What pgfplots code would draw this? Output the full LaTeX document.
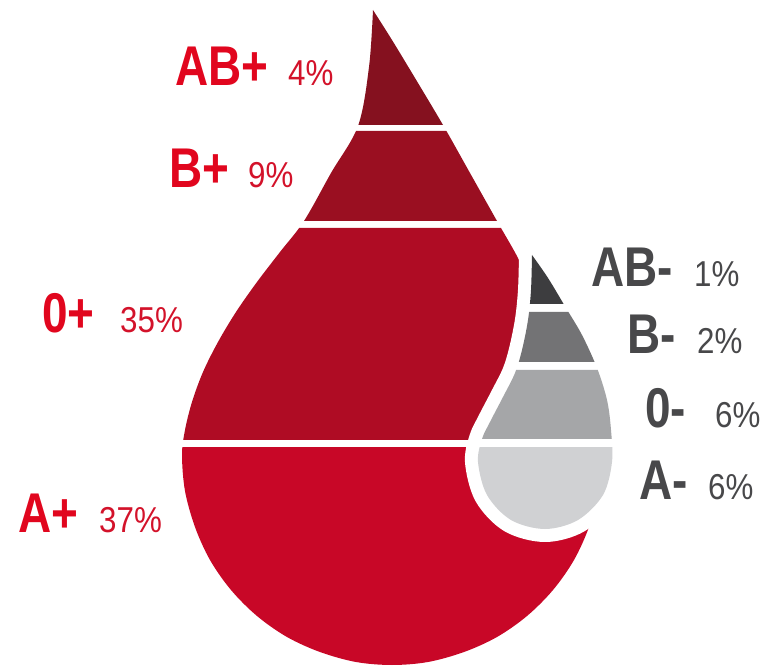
\documentclass[border=0pt]{standalone}
\usepackage{pgfplots}
\pgfplotsset{compat=1.18}
\usepackage{fontspec}
\setmainfont{Liberation Sans}[FakeStretch=0.87]
\newfontfamily\labfont{Liberation Sans}[FakeStretch=0.82]
\definecolor{abp}{HTML}{85111F}
\definecolor{bp}{HTML}{9A0F21}
\definecolor{op}{HTML}{AF0C24}
\definecolor{ap}{HTML}{C80727}
\definecolor{abn}{HTML}{3D3D3F}
\definecolor{bn}{HTML}{737375}
\definecolor{on}{HTML}{A5A6A8}
\definecolor{an}{HTML}{D0D1D3}
\definecolor{redtxt}{HTML}{E1061E}
\definecolor{pcttxt}{HTML}{D3122A}
\definecolor{graytxt}{HTML}{48484A}
\newcommand{\bigdrop}{(373,10) (392,40) (415,78) (443,125) (470,173) (497,221) (518,258) (530,285) (553,320) (589,383) (602,455) (599,491) (589,527) (574,560) (553,590) (527,616) (497,637) (464,652) (428,662) (392,665) (356,662) (320,652) (287,637) (257,616) (231,590) (210,560) (195,527) (185,491) (182,455) (185,430) (192,402) (203,372) (218,342) (236,312) (257,282) (280,252) (304,221) (331,173) (358,126) (369,67) (373,10)}
\newcommand{\smalldrop}{(532,255) (548,278) (566,308) (582,335) (597,368) (607,400) (611,430) (612,462) (603,495) (578,520) (545,529) (511,520) (487,495) (478,462) (482,439) (490,422) (503,397) (515,373) (522,350) (528,320) (531,290) (532,255)}
\newcommand{\lbl}[1]{\labfont\fontsize{56}{56}\selectfont\bfseries #1}
\newcommand{\pct}[1]{\fontsize{36}{36}\selectfont #1}
\begin{document}
\begin{tikzpicture}
\begin{axis}[x=1pt,y=1pt,xmin=0,xmax=769,ymin=0,ymax=668,y dir=reverse,axis lines=none,clip=false]
\path (rel axis cs:0,0) rectangle (rel axis cs:1,1);
\begin{scope}
\clip plot[smooth,tension=0.55] coordinates {\bigdrop};
\addplot[fill=abp,draw=none] coordinates {(150,0) (700,0) (700,125) (150,125) (150,0)};
\addplot[fill=bp,draw=none] coordinates {(150,131) (700,131) (700,221) (150,221) (150,131)};
\addplot[fill=op,draw=none] coordinates {(150,228) (700,228) (700,440) (150,440) (150,228)};
\addplot[fill=ap,draw=none] coordinates {(150,447) (700,447) (700,680) (150,680) (150,447)};
\end{scope}
\fill[white,draw=white,line width=26pt,line join=round] plot[smooth,tension=0.55] coordinates {\smalldrop} -- cycle;
\begin{scope}
\clip plot[smooth,tension=0.55] coordinates {\smalldrop};
\addplot[fill=abn,draw=none] coordinates {(450,240) (650,240) (650,304) (450,304) (450,240)};
\addplot[fill=bn,draw=none] coordinates {(450,312) (650,312) (650,362) (450,362) (450,312)};
\addplot[fill=on,draw=none] coordinates {(450,370) (650,370) (650,439) (450,439) (450,370)};
\addplot[fill=an,draw=none] coordinates {(450,447) (650,447) (650,540) (450,540) (450,447)};
\end{scope}
% labels
\node[anchor=base west,inner sep=0pt,text=redtxt] at (175,86) {\lbl{AB+}};
\node[anchor=base west,inner sep=0pt,text=pcttxt] at (288,86) {\pct{4\%}};
\node[anchor=base west,inner sep=0pt,text=redtxt] at (169,188) {\lbl{B+}};
\node[anchor=base west,inner sep=0pt,text=pcttxt] at (248,188) {\pct{9\%}};
\node[anchor=base west,inner sep=0pt,text=redtxt] at (42,333) {\lbl{0+}};
\node[anchor=base west,inner sep=0pt,text=pcttxt] at (120,333) {\pct{35\%}};
\node[anchor=base west,inner sep=0pt,text=redtxt] at (18,532) {\lbl{A+}};
\node[anchor=base west,inner sep=0pt,text=pcttxt] at (99,532) {\pct{37\%}};
\node[anchor=base west,inner sep=0pt,text=graytxt] at (591,287) {\lbl{AB-}};
\node[anchor=base west,inner sep=0pt,text=graytxt] at (694,287) {\pct{1\%}};
\node[anchor=base west,inner sep=0pt,text=graytxt] at (627,354) {\lbl{B-}};
\node[anchor=base west,inner sep=0pt,text=graytxt] at (697,354) {\pct{2\%}};
\node[anchor=base west,inner sep=0pt,text=graytxt] at (645,428) {\lbl{0-}};
\node[anchor=base west,inner sep=0pt,text=graytxt] at (715,428) {\pct{6\%}};
\node[anchor=base west,inner sep=0pt,text=graytxt] at (639,499) {\lbl{A-}};
\node[anchor=base west,inner sep=0pt,text=graytxt] at (708,499) {\pct{6\%}};
\end{axis}
\end{tikzpicture}
\end{document}
